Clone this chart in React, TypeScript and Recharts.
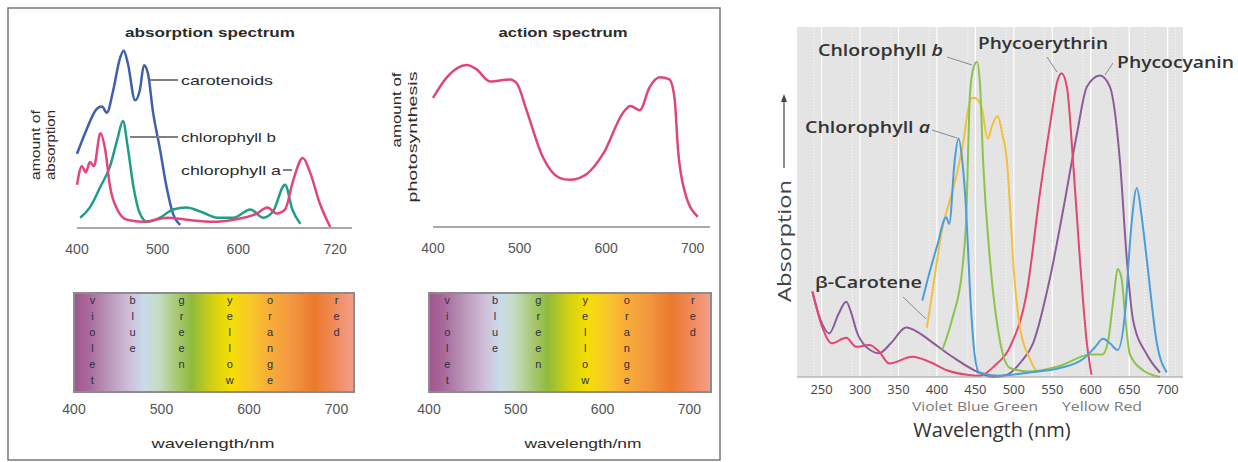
import React from "react"
import {
  LineChart,
  Line,
  XAxis,
  YAxis,
  CartesianGrid,
  ComposedChart,
  ReferenceArea,
  Scatter,
} from "recharts"

type Pt = [number, number]

// absorption spectrum, [wavelength nm, relative absorption]
const carotenoids: Pt[] = [
  [400, 36], [410, 46], [425, 58], [431, 59], [437, 56], [445, 67], [453, 82], [458, 86],
  [463, 80], [472, 62], [478, 67], [483, 79], [488, 75], [494, 57], [503, 38], [511, 20],
  [519, 7], [528, 1.5],
]
const chlorophyllB: Pt[] = [
  [404, 5], [416, 10], [429, 20], [441, 30], [450, 43], [457, 52], [463, 39], [470, 20],
  [478, 7], [487, 3], [503, 5], [519, 9], [536, 10], [553, 8], [574, 5], [594, 5],
  [615, 9], [631, 5], [643, 8], [658, 21], [667, 9], [677, 2],
]
const chlorophyllA: Pt[] = [
  [400, 21], [406, 30], [411, 27], [416, 32], [421, 30], [429, 46], [435, 38], [441, 20],
  [450, 9], [462, 4], [482, 3], [512, 5], [536, 4], [569, 3], [594, 4], [623, 7],
  [636, 10], [648, 7], [658, 9], [668, 23], [680, 34], [689, 27], [701, 12], [714, 0.5],
]
const absorptionTicks = [400, 500, 600, 720]

// action spectrum
const photosynthesis: Pt[] = [
  [400, 63], [416, 73], [439, 79], [450, 77], [466, 71], [489, 72], [497, 70], [508, 57],
  [527, 34], [546, 24], [558, 23], [578, 26], [597, 36], [620, 56], [628, 59], [639, 57],
  [650, 68], [662, 73], [673, 72], [679, 63], [683, 38], [691, 17], [706, 5],
]
const actionTicks = [400, 500, 600, 700]

// colour bands under the two spectra
const bandNames = ["violet", "blue", "green", "yellow", "orange", "red"]
const bandNmLeft = [421, 467, 523, 578, 624, 700]
const bandNmRight = [421, 476, 526, 580, 628, 704]
const barTicks = [400, 500, 600, 700]

// pigments (right), [wavelength nm, absorption]
const chlA: Pt[] = [
  [381, 1.7], [390, 2.3], [400, 2.9], [412, 3.55], [416, 3.4], [423, 4.8], [428, 5.3],
  [433, 4.8], [438, 3.7], [443, 1.9], [449, 0.5], [455, 0.1], [480, 0.03], [520, 0.1],
  [560, 0.2], [590, 0.4], [605, 0.65], [616, 0.85], [625, 0.75], [635, 0.6], [645, 1.5],
  [652, 3.2], [660, 4.2], [666, 3.6], [673, 2.6], [686, 0.75], [699, 0.1],
]
const chlB: Pt[] = [
  [407, 0.6], [420, 1.3], [433, 2.4], [438, 3.5], [443, 6.3], [448, 6.9], [452, 7.0],
  [456, 6.5], [460, 4.8], [469, 2.6], [482, 0.8], [495, 0.2], [520, 0.12], [560, 0.25],
  [600, 0.5], [615, 0.5], [622, 0.75], [630, 1.8], [635, 2.4], [640, 2.2], [645, 1.3],
  [651, 0.5], [668, 0.15], [690, 0],
]
const betaCarotene: Pt[] = [
  [387, 1.1], [395, 2.0], [407, 3.3], [418, 4.0], [427, 4.6], [435, 5.3], [440, 5.9],
  [445, 6.2], [449, 6.2], [458, 6.0], [466, 5.3], [472, 5.6], [479, 5.8], [485, 5.4],
  [491, 4.8], [495, 3.8], [499, 2.6], [508, 1.1], [521, 0.4], [530, 0.1],
]
const phycoerythrin: Pt[] = [
  [238, 1.9], [251, 1.1], [263, 0.75], [282, 0.87], [295, 0.67], [312, 0.71], [325, 0.56],
  [338, 0.3], [368, 0.45], [390, 0.34], [413, 0.15], [439, 0.05], [456, 0.03], [475, 0.25],
  [495, 0.67], [517, 1.9], [534, 4.1], [547, 5.6], [557, 6.6], [562, 6.75], [569, 6.45],
  [577, 4.8], [586, 2.6], [595, 0.75], [601, 0.05],
]
const phycocyanin: Pt[] = [
  [238, 1.9], [248, 1.3], [260, 0.97], [272, 1.4], [282, 1.67], [289, 1.4], [295, 1.04],
  [308, 0.67], [325, 0.53], [340, 0.75], [360, 1.1], [375, 1.0], [390, 0.82], [420, 0.45],
  [456, 0.09], [473, 0.0], [491, 0.05], [510, 0.35], [525, 0.75], [547, 2.2], [564, 3.7],
  [582, 5.4], [595, 6.45], [612, 6.7], [625, 6.45], [638, 4.8], [647, 2.6], [655, 1.27],
  [673, 0.5], [690, 0.1],
]
const pigmentTicks = [250, 300, 350, 400, 450, 500, 550, 600, 650, 700]
const absorptionLevels = [1, 2, 3, 4, 5, 6, 7]
const fineNm = [230, 240, 260, 270, 280, 290, 310, 320, 330, 340, 360, 370, 380, 390, 410, 420, 430, 440, 460, 470, 480, 490, 510, 520, 530, 540, 560, 570, 580, 590, 610, 620, 630, 640, 660, 670, 680, 690, 710]
const fineLevels = [0.2, 0.4, 0.6, 0.8, 1.2, 1.4, 1.6, 1.8, 2.2, 2.4, 2.6, 2.8, 3.2, 3.4, 3.6, 3.8, 4.2, 4.4, 4.6, 4.8, 5.2, 5.4, 5.6, 5.8, 6.2, 6.4, 6.6, 6.8, 7.2, 7.4, 7.6]

const spectrumStops: [number, string][] = [
  [0, "#a2558e"], [0.05, "#a8689a"], [0.14, "#bea0c0"], [0.2, "#cfc0da"], [0.25, "#c8dbea"],
  [0.3, "#c7dcc6"], [0.37, "#a7c870"], [0.42, "#8fbb3c"], [0.5, "#d6d210"], [0.56, "#f4de05"],
  [0.63, "#f8c82a"], [0.7, "#f8ac38"], [0.78, "#f29640"], [0.86, "#ec7a2c"], [0.93, "#f08a5a"],
  [1, "#f4a08a"],
]

const SANS = "'Liberation Sans', Arial, sans-serif"
const OPEN = "'Open Sans', 'Noto Sans', sans-serif"

const toRows = (pts: Pt[]) => pts.map(([x, y]) => ({ x, y }))
const bands = (nms: number[]) => nms.map((x, i) => ({ x, y: 0.93, name: bandNames[i] }))

const BandLetters = (props: any) => {
  const { cx, cy, payload } = props
  return (
    <g>
      {payload.name.split("").map((ch: string, i: number) => (
        <text key={i} x={cx} y={cy + i * 16} textAnchor="middle" dominantBaseline="central"
          fontSize={11} fill="#2e2e44" fontFamily={SANS}>
          {ch}
        </text>
      ))}
    </g>
  )
}

function SpectrumBar({ id, nms, domain, width, left, right }: {
  id: string; nms: number[]; domain: [number, number]; width: number; left: number; right: number
}) {
  return (
    <ComposedChart width={width} height={182} margin={{ top: 13, right, bottom: 40, left }}>
      <defs>
        <linearGradient id={id} x1="0" y1="0" x2="1" y2="0">
          {spectrumStops.map(([o, c]) => <stop key={o} offset={o} stopColor={c} />)}
        </linearGradient>
      </defs>
      <XAxis type="number" dataKey="x" domain={domain} ticks={barTicks} height={30}
        axisLine={false} tickLine={false} tickMargin={6}
        tick={{ fontSize: 14, fill: "#555", fontFamily: SANS }} />
      <YAxis type="number" dataKey="y" domain={[0, 1]} hide />
      <ReferenceArea x1={domain[0]} x2={domain[1]} y1={0} y2={1} fill={`url(#${id})`} fillOpacity={1}
        stroke="#8d8a90" strokeWidth={2} ifOverflow="visible" />
      <Scatter data={bands(nms)} dataKey="y" shape={BandLetters} isAnimationActive={false} />
    </ComposedChart>
  )
}

const axisGray = { stroke: "#a9a9a9", strokeWidth: 2 }
const leftTick = { fontSize: 14, fill: "#555", fontFamily: SANS }

export default function App() {
  return (
    <div style={{ position: "absolute", left: 0, top: 0, width: 1238, height: 462, background: "#fff", overflow: "hidden" }}>
      <div style={{ position: "absolute", left: 0, top: 0 }}>
        <LineChart width={370} height={280} margin={{ top: 22, right: 18, bottom: 22, left: 77 }}>
          <XAxis type="number" dataKey="x" domain={[400, 741]} ticks={absorptionTicks} height={30}
            axisLine={axisGray} tickLine={false} tickMargin={10} tick={leftTick} />
          <YAxis type="number" dataKey="y" domain={[0, 100]} width={0} tick={false} tickLine={false} axisLine={axisGray} />
          <Line data={toRows(carotenoids)} dataKey="y" type="monotone" stroke="#3f5fae" strokeWidth={2.5} dot={false} isAnimationActive={false} />
          <Line data={toRows(chlorophyllB)} dataKey="y" type="monotone" stroke="#1f9d89" strokeWidth={2.5} dot={false} isAnimationActive={false} />
          <Line data={toRows(chlorophyllA)} dataKey="y" type="monotone" stroke="#e2447c" strokeWidth={2.5} dot={false} isAnimationActive={false} />
        </LineChart>
      </div>

      <div style={{ position: "absolute", left: 370, top: 0 }}>
        <LineChart width={360} height={280} margin={{ top: 22, right: 20, bottom: 23, left: 63 }}>
          <XAxis type="number" dataKey="x" domain={[400, 720]} ticks={actionTicks} height={30}
            axisLine={axisGray} tickLine={false} tickMargin={10} tick={leftTick} />
          <YAxis type="number" dataKey="y" domain={[0, 100]} width={0} tick={false} tickLine={false} axisLine={axisGray} />
          <Line data={toRows(photosynthesis)} dataKey="y" type="monotone" stroke="#e0457a" strokeWidth={2.5} dot={false} isAnimationActive={false} />
        </LineChart>
      </div>

      <div style={{ position: "absolute", left: 0, top: 280 }}>
        <SpectrumBar id="specL" nms={bandNmLeft} domain={[400, 720]} width={370} left={74} right={16} />
      </div>
      <div style={{ position: "absolute", left: 370, top: 280 }}>
        <SpectrumBar id="specR" nms={bandNmRight} domain={[400, 725]} width={360} left={59} right={19} />
      </div>

      <div style={{ position: "absolute", left: 780, top: 0 }}>
        <LineChart width={458} height={462} margin={{ top: 27, right: 55, bottom: 61, left: 17 }}>
          <CartesianGrid fill="#e4e4e4" stroke="#ffffff" strokeOpacity={0.85} strokeDasharray="1 2"
            verticalValues={fineNm} horizontalValues={fineLevels} />
          <CartesianGrid fill="none" stroke="#ffffff" strokeWidth={1.2}
            verticalValues={pigmentTicks} horizontalValues={absorptionLevels} />
          <XAxis type="number" dataKey="x" domain={[218, 720]} ticks={pigmentTicks} height={24}
            axisLine={{ stroke: "#9a9a9a" }} tickLine={false} tickMargin={2}
            tick={{ fontSize: 13, fill: "#444", fontFamily: OPEN }} />
          <YAxis type="number" dataKey="y" domain={[0, 7.78]} ticks={absorptionLevels} width={0}
            tick={false} tickSize={4} tickLine={{ stroke: "#888" }} axisLine={{ stroke: "#9a9a9a" }} />
          <Line data={toRows(phycocyanin)} dataKey="y" type="monotone" stroke="#8c5c98" strokeWidth={2} dot={false} isAnimationActive={false} />
          <Line data={toRows(phycoerythrin)} dataKey="y" type="monotone" stroke="#e5456f" strokeWidth={2} dot={false} isAnimationActive={false} />
          <Line data={toRows(betaCarotene)} dataKey="y" type="monotone" stroke="#f3bf3c" strokeWidth={2} dot={false} isAnimationActive={false} />
          <Line data={toRows(chlB)} dataKey="y" type="monotone" stroke="#8cc44a" strokeWidth={2} dot={false} isAnimationActive={false} />
          <Line data={toRows(chlA)} dataKey="y" type="monotone" stroke="#4a9fd8" strokeWidth={2} dot={false} isAnimationActive={false} />
        </LineChart>
      </div>

      <svg width={1238} height={462} style={{ position: "absolute", left: 0, top: 0, pointerEvents: "none" }}>
        <rect x={8} y={8} width={712} height={452} fill="none" stroke="#777" strokeWidth={1.5} />

        <g fontFamily={SANS} fill="#2b2b2b" dominantBaseline="central">
          <text x={210} y={32} textAnchor="middle" fontSize={13} fontWeight="bold" textLength={170} lengthAdjust="spacingAndGlyphs">absorption spectrum</text>
          <text x={563} y={32} textAnchor="middle" fontSize={13} fontWeight="bold" textLength={129} lengthAdjust="spacingAndGlyphs">action spectrum</text>

          <text x={181} y={80} fontSize={13} textLength={92} lengthAdjust="spacingAndGlyphs">carotenoids</text>
          <text x={181} y={137} fontSize={13} textLength={95} lengthAdjust="spacingAndGlyphs">chlorophyll b</text>
          <text x={181} y={170} fontSize={13} textLength={100} lengthAdjust="spacingAndGlyphs">chlorophyll a</text>

          <text transform="translate(36 145) rotate(-90)" textAnchor="middle" fontSize={12} textLength={70} lengthAdjust="spacingAndGlyphs">amount of</text>
          <text transform="translate(51 145) rotate(-90)" textAnchor="middle" fontSize={12} textLength={70} lengthAdjust="spacingAndGlyphs">absorption</text>
          <text transform="translate(397 110) rotate(-90)" textAnchor="middle" fontSize={12} textLength={75} lengthAdjust="spacingAndGlyphs">amount of</text>
          <text transform="translate(413 137) rotate(-90)" textAnchor="middle" fontSize={12} textLength={131} lengthAdjust="spacingAndGlyphs">photosynthesis</text>

          <text x={213} y={443} textAnchor="middle" fontSize={13} textLength={123} lengthAdjust="spacingAndGlyphs">wavelength/nm</text>
          <text x={583} y={443} textAnchor="middle" fontSize={13} textLength={117} lengthAdjust="spacingAndGlyphs">wavelength/nm</text>
        </g>
        <g stroke="#808080" strokeWidth={2}>
          <line x1={150} y1={80} x2={178} y2={80} />
          <line x1={130} y1={137} x2={178} y2={137} />
          <line x1={283} y1={170} x2={292} y2={170} />
        </g>

        <g fontFamily={OPEN} fill="#333" fontWeight={600} fontSize={16} dominantBaseline="central">
          <text x={818} y={50} textLength={125} lengthAdjust="spacingAndGlyphs">Chlorophyll <tspan fontStyle="italic">b</tspan></text>
          <text x={978} y={43} textLength={130} lengthAdjust="spacingAndGlyphs">Phycoerythrin</text>
          <text x={1117} y={62} textLength={117} lengthAdjust="spacingAndGlyphs">Phycocyanin</text>
          <text x={805} y={127} textLength={125} lengthAdjust="spacingAndGlyphs">Chlorophyll <tspan fontStyle="italic">a</tspan></text>
          <text x={815} y={282} textLength={107} lengthAdjust="spacingAndGlyphs">β-Carotene</text>
        </g>
        <g stroke="#8a8a8a" strokeWidth={1}>
          <line x1={947} y1={57} x2={972} y2={65} />
          <line x1={1047} y1={57} x2={1057} y2={72} />
          <line x1={1113} y1={63} x2={1105} y2={75} />
          <line x1={932} y1={130} x2={957} y2={138} />
          <line x1={903} y1={297} x2={926} y2={319} />
        </g>

        <g fontFamily={OPEN} dominantBaseline="central">
          <text transform="translate(784 241) rotate(-90)" textAnchor="middle" fontSize={19} fill="#444" textLength={122} lengthAdjust="spacingAndGlyphs">Absorption</text>
          <text x={912} y={406} fontSize={12} fill="#7a7a7a" textLength={126} lengthAdjust="spacingAndGlyphs">Violet Blue Green</text>
          <text x={1062} y={406} fontSize={12} fill="#7a7a7a" textLength={80} lengthAdjust="spacingAndGlyphs">Yellow Red</text>
          <text x={992} y={429} textAnchor="middle" fontSize={20} fill="#333">Wavelength (nm)</text>
        </g>
        <line x1={784} y1={168} x2={784} y2={100} stroke="#444" strokeWidth={1.2} />
        <polygon points="784,94 781,102 787,102" fill="#444" />
      </svg>
    </div>
  )
}
